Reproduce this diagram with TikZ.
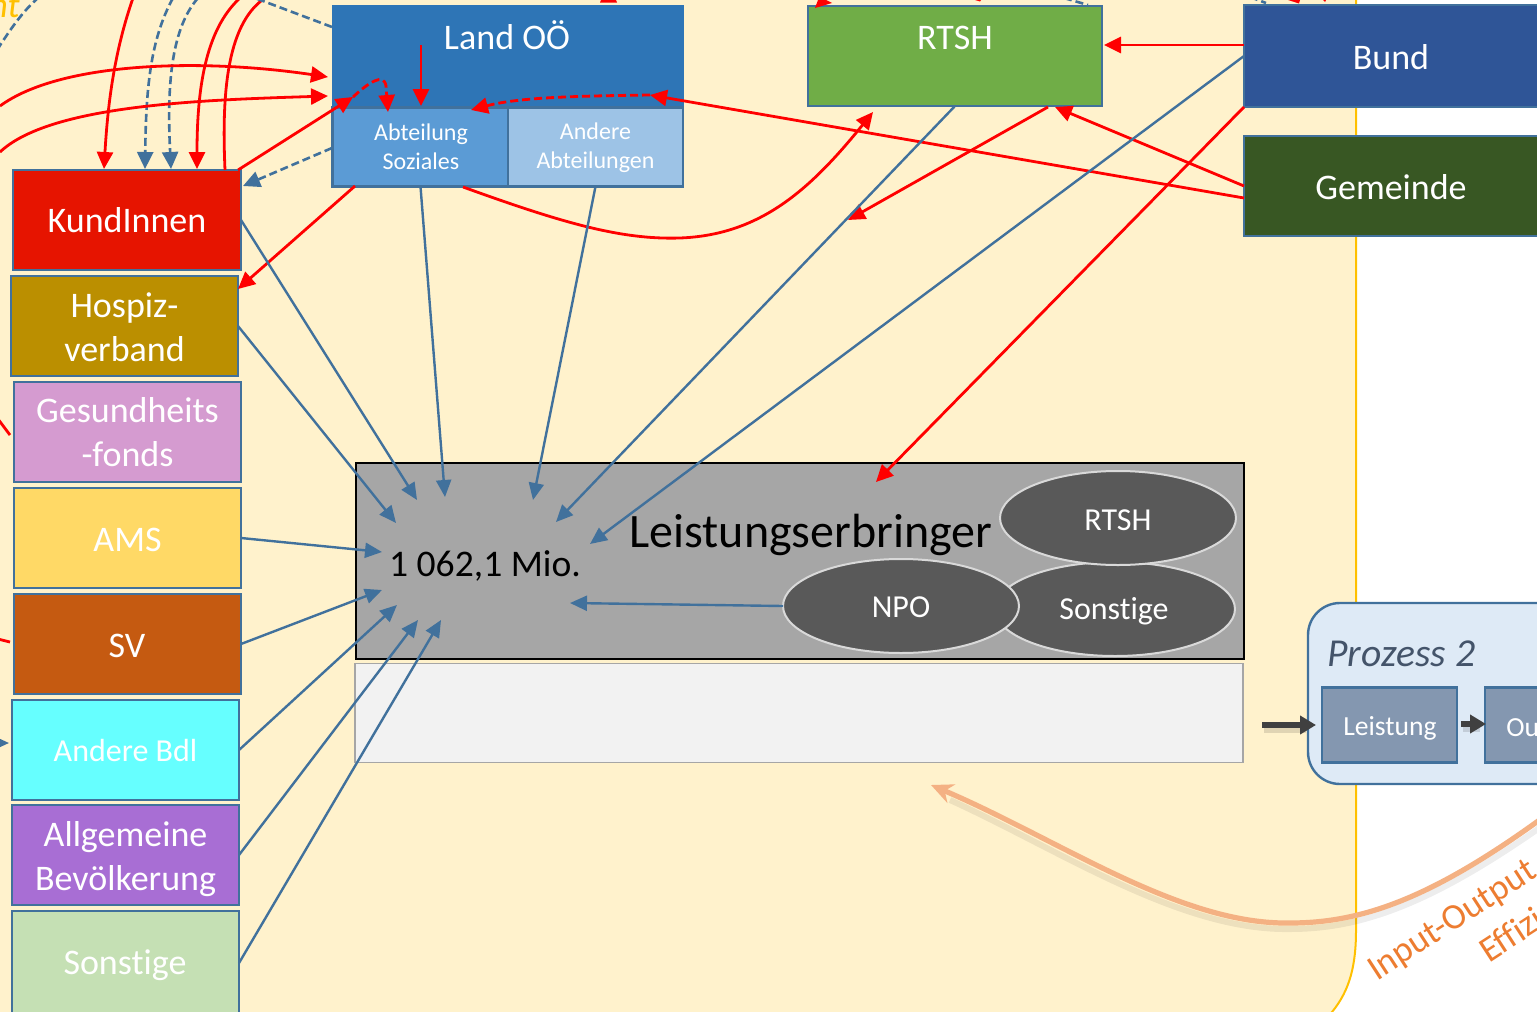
\documentclass[tikz,border=0pt]{standalone}
\usepackage{fontspec}
\setmainfont[Ligatures=NoCommon]{Carlito}
\usetikzlibrary{arrows.meta,shapes.geometric}
\definecolor{redl}{HTML}{FF0000}
\definecolor{bluel}{HTML}{41719C}
\definecolor{panel}{HTML}{FFF2CC}
\definecolor{gold}{HTML}{FFC000}
\definecolor{orangec}{HTML}{F4B183}
\definecolor{oranget}{HTML}{ED7D31}
\definecolor{darkarr}{HTML}{404040}
\tikzset{
  boxn/.style={draw=bluel,line width=1.25pt,rectangle,inner sep=0pt,outer sep=0pt,align=center,text=white,font=\fontsize{18}{22}\selectfont},
  lab/.style={text=white,align=center,inner sep=0pt,font=\fontsize{18}{22}\selectfont},
  slab/.style={text=white,align=center,inner sep=0pt,font=\fontsize{12}{14.5}\selectfont},
  ell/.style={draw=white!85!black,line width=1pt,ellipse,fill=black!65,inner sep=0pt,outer sep=0pt,minimum width=118pt,minimum height=47pt},
  elab/.style={text=white,inner sep=0pt,font=\fontsize{16}{18}\selectfont},
  redar/.style={draw=redl,line width=1.4pt,-{Triangle[length=8.5pt,width=8pt]}},
  redline/.style={draw=redl,line width=1.4pt},
  redda/.style={redar,dash pattern=on 4pt off 2pt},
  bluear/.style={draw=bluel,line width=1.2pt,-{Triangle[length=8.5pt,width=7.5pt]}},
  bluedash/.style={draw=bluel,line width=1.3pt,dash pattern=on 4pt off 2pt,-{Triangle[length=8.5pt,width=8pt]}},
  bluedashline/.style={draw=bluel,line width=1.3pt,dash pattern=on 4pt off 2pt},
  darkar/.style={draw=darkarr,line width=2.8pt,-{Triangle[length=8pt,width=9pt]}},
  shadeline/.style={draw=black,opacity=.12,line width=3pt},
  orangear/.style={draw=orangec,line width=2.6pt,-{Stealth[length=11pt,width=10pt]}},
}
\begin{document}
\begin{tikzpicture}[x=0.5pt,y=-0.5pt]
\path[use as bounding box,clip] (0,0) rectangle (1537,1012);
\fill[white] (0,0) rectangle (1537,1012);
% yellow panel
\path[fill=panel,draw=gold,line width=1pt] (-20,-20) -- (1356,-20) -- (1356,930) .. controls (1356,965) and (1350,990) .. (1332,1012) -- (1300,1045) -- (-20,1045) -- cycle;
% Left column
\node[boxn,fill={rgb,255:red,230;green,20;blue,0},minimum width=114pt,minimum height=50pt] (kund) at (127,220) {};
\node[lab] (kundt) at (127,220) {KundInnen};
\node[boxn,fill={rgb,255:red,187;green,143;blue,0},minimum width=113.5pt,minimum height=50pt] (hosp) at (124.5,326) {};
\node[lab] (hospt) at (124.5,327) {Hospiz-\\verband};
\node[boxn,fill={rgb,255:red,213;green,155;blue,208},minimum width=113.5pt,minimum height=50pt] (gesu) at (127.5,432) {};
\node[lab] (gesut) at (127.5,432) {Gesundheits\\-fonds};
\node[boxn,fill={rgb,255:red,255;green,217;blue,102},minimum width=113.5pt,minimum height=50pt] (ams) at (127.5,538) {};
\node[lab] (amst) at (127.5,540) {AMS};
\node[boxn,fill={rgb,255:red,197;green,90;blue,17},minimum width=113.5pt,minimum height=50pt] (sv) at (127.5,644) {};
\node[lab] (svt) at (127,646) {SV};
\node[boxn,fill={rgb,255:red,102;green,255;blue,255},minimum width=113.5pt,minimum height=50pt] (bdl) at (125.5,750) {};
\node[lab,font=\fontsize{16}{20}\selectfont] (bdlt) at (125.5,750) {Andere Bdl};
\node[boxn,fill={rgb,255:red,168;green,110;blue,212},minimum width=113.5pt,minimum height=50pt] (allg) at (125.5,855) {};
\node[lab] (allgt) at (125.5,859) {Allgemeine\\Bevölkerung};
\node[boxn,fill={rgb,255:red,197;green,224;blue,180},minimum width=113.5pt,minimum height=52pt] (sons) at (125.5,963) {};
\node[lab] (sonst) at (125,965) {Sonstige};
% Land
\node[boxn,fill={rgb,255:red,46;green,117;blue,182},draw=none,minimum width=176pt,minimum height=51pt] (land) at (507.5,56) {};
\node[lab] (landt) at (507,35) {Land OÖ};
\node[boxn,fill={rgb,255:red,91;green,155;blue,213},minimum width=88pt,minimum height=39.5pt] (abt) at (420.5,147) {};
\node[slab] (abtt) at (421,147) {Abteilung\\Soziales};
\node[boxn,fill={rgb,255:red,157;green,195;blue,230},minimum width=87.5pt,minimum height=39.5pt] (aabt) at (595.5,147) {};
\node[slab] (aabtt) at (595.5,148) {Andere\\Abteilungen};
\node[boxn,fill={rgb,255:red,112;green,173;blue,71},minimum width=147pt,minimum height=50pt] (rtsh) at (955,56) {};
\node[lab] (rtsht) at (955,38) {RTSH};
\node[boxn,fill={rgb,255:red,47;green,85;blue,151},minimum width=160pt,minimum height=51pt] (bund) at (1404,56) {};
\node[lab] (bundt) at (1391,57) {Bund};
\node[boxn,fill={rgb,255:red,56;green,87;blue,35},minimum width=160pt,minimum height=50pt] (geme) at (1404,186) {};
\node[lab] (gemet) at (1391,187) {Gemeinde};
% Leistungserbringer
\node[draw=black,line width=1pt,fill=black!35,minimum width=444pt,minimum height=98pt,inner sep=0pt,outer sep=0pt] (le) at (800,561) {};
\node[draw=black!35,line width=.6pt,fill=black!5,minimum width=444pt,minimum height=49.5pt,inner sep=0pt,outer sep=0pt] (le2) at (799,713) {};
\node[inner sep=0pt,font=\fontsize{24}{28}\selectfont] (letx) at (811,535) {Leistungserbringer};
\node[inner sep=0pt,font=\fontsize{18.8}{22}\selectfont] (mio) at (485,566) {1 062,1 Mio.};
\node[ell,minimum width=120pt] (es) at (1115,609) {};
\node[elab] (est) at (1114,611) {Sonstige};
\node[ell] (er) at (1118,518) {};
\node[elab] (ert) at (1118,520) {RTSH};
\node[ell] (en) at (901,606) {};
\node[elab] (ent) at (901,607) {NPO};
% Prozess 2
\node[draw=bluel,line width=1.2pt,fill={rgb,255:red,222;green,234;blue,246},rounded corners=16pt,minimum width=160pt,minimum height=90.5pt,inner sep=0pt,outer sep=0pt] (pz) at (1468,693.5) {};
\node[anchor=west,font=\itshape\fontsize{19.8}{24}\selectfont,text={rgb,255:red,68;green,84;blue,106},inner sep=0pt] (pzt) at (1327,654) {Prozess 2};
\node[boxn,fill={rgb,255:red,132;green,151;blue,176},minimum width=67.5pt,minimum height=37.5pt] (leist) at (1389.5,725) {};
\node[lab,font=\fontsize{13.8}{16}\selectfont] (leistt) at (1390,728) {Leistung};
\node[boxn,fill={rgb,255:red,132;green,151;blue,176},minimum width=40pt,minimum height=37.5pt] (out) at (1525,725) {};
\node[anchor=west,text=white,font=\fontsize{13.8}{16}\selectfont,inner sep=0pt] (outt) at (1506,728) {Ou};
% Free ends
\coordinate (t1) at (133,-2);
\coordinate (t2) at (173,-2);
\coordinate (t3) at (198,-2);
\coordinate (t4) at (240,-2);
\coordinate (t5) at (265,-2);
\coordinate (k1) at (104,169);
\coordinate (k2) at (145,169);
\coordinate (k3) at (171,169);
\coordinate (k4) at (197,169);
\coordinate (k5) at (225,170);
\coordinate (k6) at (238,170);
\coordinate (l1) at (0,106);
\coordinate (l2) at (0,152);
\coordinate (la) at (328,77);
\coordinate (lb) at (328,96);
\coordinate (lc) at (353,97);
\coordinate (ld) at (388,112);
\coordinate (le1) at (417,500);
\coordinate (le3) at (445,497);
\coordinate (le4) at (533,500);
\coordinate (le5) at (556,522);
\coordinate (le6) at (590,544);
\coordinate (le7) at (876,482);
\coordinate (le8) at (396,523);
\coordinate (le9) at (382,552);
\coordinate (le10) at (382,590);
\coordinate (le11) at (397,605);
\coordinate (le12) at (418,620);
\coordinate (le13) at (441,620);
\coordinate (le14) at (570,603);
% Connectors into KundInnen
\draw[redar] (t1) .. controls (115,50) and (108,100) .. (k1);
\draw[bluedash] (t2) .. controls (150,40) and (146,90) .. (k2);
\draw[bluedash] (t3) .. controls (170,30) and (167,90) .. (k3);
\draw[redar] (t4) .. controls (205,30) and (197,90) .. (k4);
\draw[redline] (t5) .. controls (225,25) and (222,100) .. (k5);
\draw[redar] (l1) .. controls (60,62) and (200,58) .. (la);
\draw[redar] (l2) .. controls (50,105) and (200,100) .. (lb);
\draw[redar] (k6) -- (lc);
\draw[redda] (lc) .. controls (368,83) and (384,72) .. (386,86) -- (ld);
\coordinate (ab1) at (332,148);
\coordinate (kc) at (243,186);
\draw[bluedash] (ab1) -- (kc);
\coordinate (lt) at (332,27);
\coordinate (tt) at (255,-2);
\draw[bluedashline] (lt) -- (tt);
\coordinate (ab2) at (355,186);
\coordinate (ho) at (238,289);
\draw[redar] (ab2) -- (ho);
\coordinate (in1) at (421,45);
\coordinate (in2) at (421,106);
\draw[redar] (in1) -- (in2);
% Gemeinde etc
\coordinate (gm1) at (1244,198);
\coordinate (gm2) at (650,95);
\coordinate (ab3) at (471,110);
\draw[redar] (gm1) -- (gm2);
\draw[redda] (gm2) .. controls (580,96) and (520,97) .. (ab3);
\coordinate (ab4) at (463,187);
\coordinate (rt1) at (873,112);
\draw[redar] (ab4) .. controls (560,222) and (620,240) .. (680,238) .. controls (760,235) and (810,190) .. (rt1);
\coordinate (bd1) at (1244,45);
\coordinate (rt2) at (1104,45);
\draw[redar] (bd1) -- (rt2);
\coordinate (gm3) at (1244,186);
\coordinate (rt3) at (1055,107);
\draw[redar] (gm3) -- (rt3);
\coordinate (rt4) at (1048,107);
\coordinate (fr) at (848,220);
\draw[redar] (rt4) -- (fr);
\coordinate (bd2) at (1244,107);
\draw[redar] (bd2) -- (le7);
% Blue into Leistungserbringer
\draw[bluear] (kund.east) -- (le1);
\draw[bluear] (hosp.east) -- (le8);
\draw[bluear] (ams.east) -- (le9);
\draw[bluear] (sv.east) -- (le10);
\draw[bluear] (bdl.east) -- (le11);
\draw[bluear] (allg.east) -- (le12);
\draw[bluear] (sons.east) -- (le13);
\draw[bluear] (abt.south) -- (le3);
\draw[bluear] (aabt.south) -- (le4);
\draw[bluear] (rtsh.south) -- (le5);
\draw[bluear] (bund.west) -- (le6);
\draw[bluear] (en.west) -- (le14);
% Left edge fragments
\coordinate (e1) at (-3,50);
\coordinate (e2) at (38,-2);
\draw[bluedashline] (e1) .. controls (10,30) and (22,12) .. (e2);
\coordinate (e3) at (-2,419);
\coordinate (e4) at (10,435);
\draw[redline] (e3) -- (e4);
\coordinate (e5) at (-2,639);
\coordinate (e6) at (10,642);
\draw[redline] (e5) -- (e6);
\coordinate (e7) at (-12,743);
\coordinate (e8) at (9,743);
\draw[bluear] (e7) -- (e8);
% Top edge fragments
\fill[redl] (600,2.5) -- (617,2.5) -- (616,0) -- (601,0) -- cycle;
\fill[redl] (815,8) -- (818,0) -- (826,0) -- (832,3) -- cycle;
\fill[redl] (975,0) -- (981,0) -- (980,1.5) -- cycle;
\coordinate (f5) at (1064,-2);
\coordinate (f6) at (1088,5);
\draw[bluedashline] (f5) -- (f6);
\coordinate (f7) at (1250,-3);
\coordinate (f8) at (1266,3);
\draw[bluedashline] (f7) -- (f8);
\fill[redl] (1288,0) -- (1300,0) -- (1299,3.5) -- cycle;
\fill[redl] (1323,0) -- (1326,0) -- (1325,2) -- cycle;
% Dark arrows
\coordinate (da1) at (1262,725);
\coordinate (da1s) at (1264,730);
\coordinate (da2) at (1316,725);
\coordinate (da2s) at (1306,730);
\draw[shadeline] (da1s) -- (da2s);
\draw[darkar] (da1) -- (da2);
\coordinate (db1) at (1461,724);
\coordinate (db2) at (1486,724);
\coordinate (db1s) at (1463,729);
\coordinate (db2s) at (1480,729);
\draw[shadeline] (db1s) -- (db2s);
\draw[darkar] (db1) -- (db2);
% Orange curve
\coordinate (oa) at (1545,816);
\coordinate (ob) at (1290,923);
\coordinate (oc) at (931,785);
\coordinate (obs) at (1290,929);
\coordinate (oas) at (1545,824);
\coordinate (ocs) at (950,800);
\draw[draw=black,opacity=.07,line width=3pt] (oas) .. controls (1430,905) and (1360,929) .. (obs) .. controls (1180,931) and (1060,850) .. (ocs);
\draw[orangear] (oa) .. controls (1430,900) and (1360,923) .. (ob) .. controls (1180,925) and (1060,840) .. (oc);
% Slanted and clipped texts
\node[rotate=33,text=oranget,font=\fontsize{18}{21}\selectfont,anchor=west,inner sep=0pt] (iot) at (1372,974) {Input-Output};
\node[rotate=33,text=oranget,font=\fontsize{18}{21}\selectfont,anchor=west,inner sep=0pt] (eff) at (1482,953) {Effizi};
\node[text=gold,font=\itshape\fontsize{18}{20}\selectfont,anchor=east,inner sep=0pt] (nt) at (20,6) {nt};
\end{tikzpicture}
\end{document}
